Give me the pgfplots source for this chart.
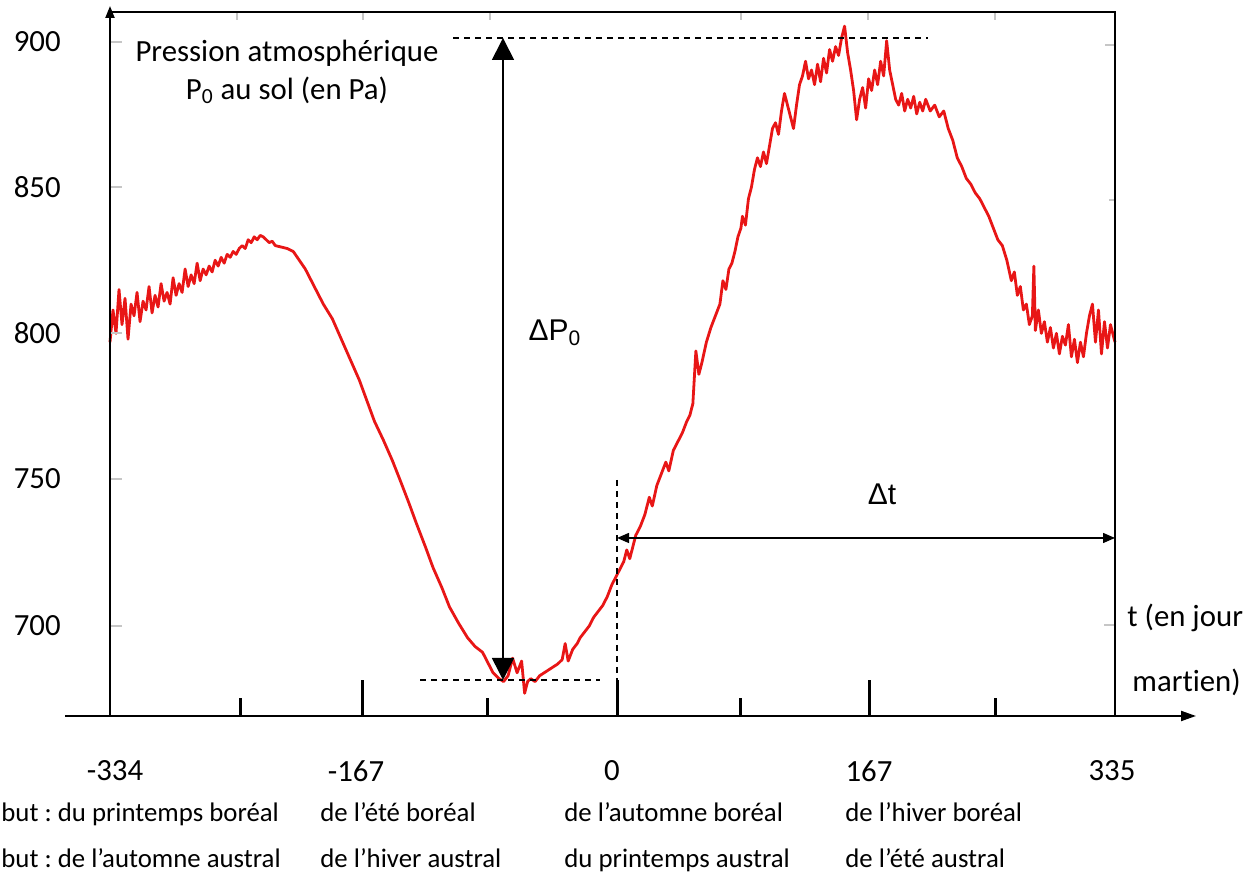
\documentclass[border=0pt]{standalone}
\usepackage{pgfplots}
\pgfplotsset{compat=1.18}
\usepackage{fontspec}
\setmainfont{Carlito}[Ligatures={NoCommon}]
\newfontfamily\arialfont{Liberation Sans}
\usetikzlibrary{arrows.meta}
\definecolor{curve}{RGB}{232,22,22}
\frenchspacing
\begin{document}
\begin{tikzpicture}[x=0.5pt,y=0.5pt]
\useasboundingbox (0,0) rectangle (1259,892);
\begin{axis}[at={(55pt,88pt)}, anchor=south west, scale only axis,
  width=502.5pt, height=352pt,
  xmin=-334, xmax=335, ymin=669.24, ymax=909.84,
  hide axis, clip=false]
\addplot[color=curve, line width=1.4pt, line join=round] coordinates {
(-334,797)(-332,808)(-330,800)(-328,815)(-326,803)(-324,812)(-322,798)(-320,810)
(-318,806)(-316,814)(-314,804)(-312,811)(-310,808)(-308,816)(-306,807)(-304,813)
(-302,809)(-300,817)(-298,811)(-296,814)(-294,810)(-292,819)(-290,813)(-288,817)
(-286,814)(-284,822)(-282,816)(-280,820)(-278,817)(-276,824)(-274,818)(-272,822)
(-270,820)(-268,823)(-266,821)(-264,825)(-262,823)(-260,826)(-258,824)(-256,827)
(-254,826)(-252,828)(-250,827)(-248,829)(-246,830)(-244,829)(-242,832)(-240,831)
(-238,833)(-236,832)(-234,833.5)(-232,833)(-230,832)(-228,831)(-226,831.5)(-224,830)
(-220,829.5)(-216,829)(-212,828)(-208,825)(-204,822)(-200,818)(-196,814)(-192,810)
(-186,805)(-180,798)(-174,791)(-168,784)(-163,777)(-158,770)(-152,763.5)(-146,756.5)
(-141,750)(-135,742)(-130,735)(-124,727)(-119,720)(-113,713)(-108,706.5)(-102,701)
(-96,696)(-91,693)(-86,691)(-82,687)(-79,684)(-75,682)(-72,681)(-69,683)
(-66,689)(-63,684)(-60,688)(-58,677)(-56,681)(-54,682)(-51,681)(-48,683)
(-45,684)(-42,685)(-39,686)(-36,687)(-33,688.5)(-31,694)(-29,688)(-26,692)
(-23,694)(-21,696)(-18,698)(-15,700)(-12,703)(-9,705)(-6,707)(-3,710)
(0,714)(4,718)(8,722)(10,726)(12,723)(16,731)(19,734)(22,738)
(25,744)(27,741)(30,748)(33,752)(36,756)(38,753)(41,760)(44,763)
(47,766)(50,770)(52,772)(54,776)(56,794)(58,786)(60,790)(63,797)
(66,802)(69,806)(72,810)(74,818)(76,815)(78,822)(80,824)(82,828)
(84,833)(86,836)(87,840)(89,837)(91,846)(93,850)(95,856)(97,860)
(99,857)(101,862)(103,858)(105,864)(107,870)(109,872)(111,868)(113,876)
(115,882)(117,878)(119,874)(121,870)(123,878)(125,885)(127,888)(129,893)
(131,887)(133,890)(135,885)(137,892)(139,886)(141,894)(143,889)(145,897)
(147,893)(149,898)(151,895)(153,901)(155,905)(157,896)(159,890)(161,883)
(163,873)(165,880)(167,884)(169,877)(171,887)(173,883)(175,890)(177,885)
(179,893)(181,888)(183,900)(185,890)(187,885)(189,880)(191,878)(193,882)
(195,876)(197,880)(199,877)(201,881)(203,875)(205,879)(207,876)(209,880)
(212,876)(215,878)(218,874)(221,876)(224,870)(227,866)(230,860)(233,857)
(236,853)(239,851)(242,848)(245,846)(248,843)(251,840)(254,836)(257,832)
(260,830)(263,825)(266,818)(268,821)(270,813)(272,816)(274,808)(276,810)
(278,803)(280,806)(281,823)(282,801)(284,808)(286,800)(288,804)(290,797)
(292,802)(294,795)(296,800)(298,793)(300,799)(302,796)(304,803)(306,792)
(308,798)(310,790)(312,797)(314,792)(316,800)(318,806)(320,810)(322,797)
(324,808)(326,793)(328,804)(330,795)(332,803)(335,797)
};
\end{axis}
% faint scan ticks
\begin{scope}[gray!45, line width=1pt]
\foreach \xx in {237,363,490,741,868,995} \draw (\xx,880) -- (\xx,872);
\foreach \yy in {850,705,559,413,266} \draw (110,\yy) -- (122,\yy);
\draw (1115,847) -- (1105,847);
\draw (1115,692) -- (1109,692);
\draw (1115,267) -- (1104,267);
\end{scope}
% axes and frame
\draw[line width=1pt, -{Triangle[length=7.5pt,width=5pt]}] (65,176) -- (1196,176);
\draw[line width=1pt, -{Triangle[length=6pt,width=4.5pt]}] (110,176) -- (110,886);
\draw[line width=1pt] (110,880) -- (1115,880) -- (1115,176);
% x ticks
\foreach \xx in {362,617,869} \draw[line width=1.5pt] (\xx,176) -- (\xx,212);
\foreach \xx in {240,487,740,995} \draw[line width=1.5pt] (\xx,176) -- (\xx,194);
% dashed guides
\begin{scope}[line width=0.6pt, dash pattern=on 3pt off 2.5pt]
\draw (453,854) -- (928,854);
\draw (420,212) -- (600,212);
\draw (617,412) -- (617,212);
\end{scope}
% Delta P arrow
\draw[line width=0.8pt, {Triangle[length=11pt,width=11pt]}-{Triangle[length=11pt,width=11pt]}] (503,854) -- (503,212);
% Delta t arrow
\draw[line width=0.7pt, {Triangle[length=6pt,width=5pt]}-{Triangle[length=6pt,width=5pt]}] (617,354) -- (1115,354);
% y tick labels
\begin{scope}[every node/.style={font=\fontsize{15.4}{18}\selectfont, inner sep=0pt}]
\node[anchor=east] at (61,850) {900};
\node[anchor=east] at (61,705) {850};
\node[anchor=east] at (61,559) {800};
\node[anchor=east] at (61,413) {750};
\node[anchor=east] at (61,266) {700};
% x tick labels
\node at (115,121) {-334};
\node at (356,121) {-167};
\node at (612,121) {0};
\node at (869,121) {167};
\node at (1112,121) {335};
% annotations
\node at (287,839) {Pression atmosphérique};
\node at (287,802) {P\textsubscript{0} au sol (en Pa)};
\node[anchor=west] at (1127,274) {t (en jour};
\node[anchor=west] at (1132,210) {martien)};
\node[font=\arialfont\fontsize{15}{18}\selectfont] at (555,559) {ΔP\textsubscript{0}};
\node[font=\arialfont\fontsize{15}{18}\selectfont] at (882,398) {Δt};
\end{scope}
% bottom rows
\begin{scope}[every node/.style={font=\fontsize{13.4}{16}\selectfont, inner sep=0pt, anchor=base west}]
\node at (1,70) {but : du printemps boréal};
\node at (320,70) {de l’été boréal};
\node at (564,70) {de l’automne boréal};
\node at (845,70) {de l’hiver boréal};
\node at (1,24) {but : de l’automne austral};
\node at (320,24) {de l’hiver austral};
\node at (564,24) {du printemps austral};
\node at (845,24) {de l’été austral};
\end{scope}
\end{tikzpicture}
\end{document}
